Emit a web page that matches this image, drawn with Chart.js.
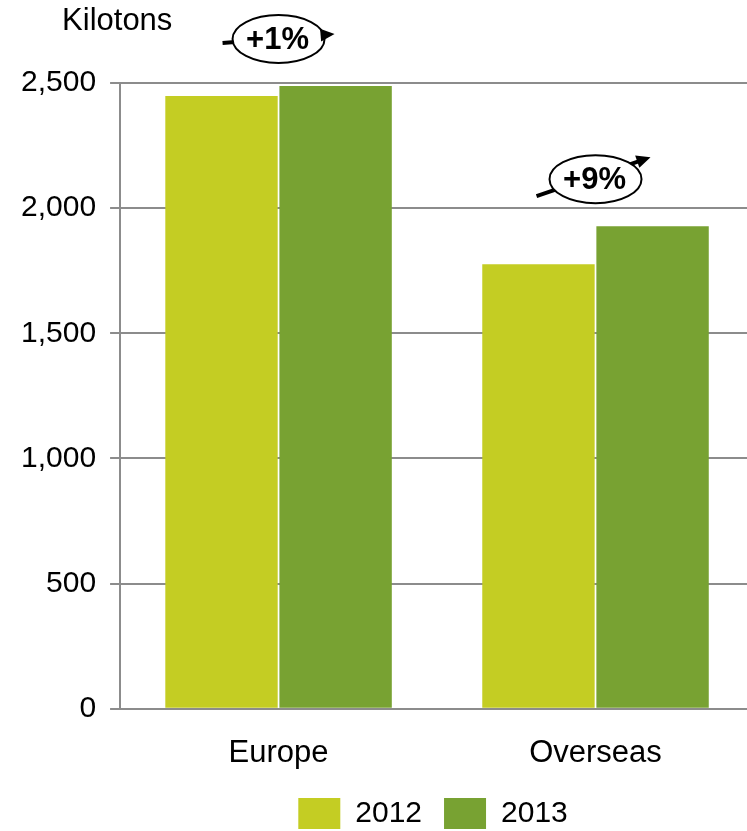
<!DOCTYPE html>
<html>
<head>
<meta charset="utf-8">
<script src="https://cdn.jsdelivr.net/npm/chart.js@4"></script>
<style>
  html, body { margin: 0; padding: 0; background: #ffffff; overflow: hidden; }
  #frame { width: 747px; height: 831px; overflow: hidden; }
  #wrap { width: 754px; height: 831px; position: relative; }
</style>
</head>
<body>
<div id="frame"><div id="wrap"><canvas id="volumeChart"></canvas></div></div>
<script>
// Chart data
var categories = ['Europe', 'Overseas'];
var seriesLabels = ['2012', '2013'];
var values2012 = [2448, 1776];
var values2013 = [2488, 1928];
var changeLabels = ['+1%', '+9%'];
var yTicks = [0, 500, 1000, 1500, 2000, 2500];
var unitLabel = 'Kilotons';

(function () {
    var FONT = '"Liberation Sans", Arial, sans-serif';
    var GRID = '#8c8c8c';

    // arrow start / tip relative to the bubble centre
    var arrowFrom = [[-56, 4], [-59, 17]];
    var arrowTo = [[56, -5], [55, -22]];

    var unitTitle = {
        id: 'unitTitle',
        afterDraw: function (chart) {
            var ctx = chart.ctx;
            var area = chart.chartArea;
            ctx.save();
            ctx.fillStyle = '#000000';
            ctx.font = '31px ' + FONT;
            ctx.textAlign = 'left';
            ctx.textBaseline = 'middle';
            ctx.fillText(unitLabel, area.left - 58, area.top - 62);
            ctx.restore();
        }
    };

    // keep legend centred under the plot area, like the original
    var legendUnderPlot = {
        id: 'legendUnderPlot',
        afterLayout: function (chart) {
            var lg = chart.legend;
            if (!lg) return;
            lg.left = chart.chartArea.left - 4;
            lg.right = chart.chartArea.right - 4;
            lg.width = lg.right - lg.left;
        }
    };

    var changeBubbles = {
        id: 'changeBubbles',
        afterDatasetsDraw: function (chart) {
            var ctx = chart.ctx;
            var x = chart.scales.x;
            var y = chart.scales.y;
            for (var i = 0; i < categories.length; i++) {
                var top = Math.max(values2012[i], values2013[i]);
                var cx = x.getPixelForValue(i);
                var cy = y.getPixelForValue(top) - 47;
                var sx = cx + arrowFrom[i][0], sy = cy + arrowFrom[i][1];
                var tx = cx + arrowTo[i][0], ty = cy + arrowTo[i][1];
                var ang = Math.atan2(ty - sy, tx - sx);

                ctx.save();
                // arrow shaft
                ctx.strokeStyle = '#000000';
                ctx.lineWidth = 4;
                ctx.beginPath();
                ctx.moveTo(sx, sy);
                ctx.lineTo(tx - 8 * Math.cos(ang), ty - 8 * Math.sin(ang));
                ctx.stroke();

                // bubble
                ctx.beginPath();
                ctx.ellipse(cx, cy, 46, 24, 0, 0, Math.PI * 2);
                ctx.fillStyle = '#ffffff';
                ctx.fill();
                ctx.lineWidth = 2;
                ctx.stroke();

                // arrow head
                var len = 14, half = 6.5;
                var bx = tx - len * Math.cos(ang), by = ty - len * Math.sin(ang);
                ctx.beginPath();
                ctx.moveTo(tx, ty);
                ctx.lineTo(bx + half * Math.sin(ang), by - half * Math.cos(ang));
                ctx.lineTo(bx - half * Math.sin(ang), by + half * Math.cos(ang));
                ctx.closePath();
                ctx.fillStyle = '#000000';
                ctx.fill();

                ctx.font = 'bold 31px ' + FONT;
                ctx.textAlign = 'center';
                ctx.textBaseline = 'middle';
                ctx.fillText(changeLabels[i], cx - 1, cy + 1);
                ctx.restore();
            }
        }
    };

    var ctxEl = document.getElementById('volumeChart');
    new Chart(ctxEl, {
        type: 'bar',
        data: {
            labels: categories,
            datasets: [{
                label: seriesLabels[0],
                data: values2012,
                backgroundColor: '#c4cd23'
            }, {
                label: seriesLabels[1],
                data: values2013,
                backgroundColor: '#78a232'
            }]
        },
        options: {
            responsive: true,
            maintainAspectRatio: false,
            animation: false,
            categoryPercentage: 0.72,
            barPercentage: 0.985,
            layout: { padding: { top: 83, left: 7, right: 0, bottom: -8 } },
            plugins: {
                legend: {
                    position: 'bottom',
                    labels: {
                        boxWidth: 42,
                        boxHeight: 31,
                        padding: 22,
                        color: '#000000',
                        font: { size: 30, family: FONT }
                    }
                },
                tooltip: { enabled: false }
            },
            scales: {
                x: {
                    grid: { display: false },
                    border: { display: true, color: GRID, width: 2 },
                    ticks: { color: '#000000', padding: 18, font: { size: 31, family: FONT } },
                    afterFit: function (scale) {
                        scale.height -= 14;
                    }
                },
                y: {
                    min: yTicks[0],
                    max: yTicks[yTicks.length - 1],
                    afterBuildTicks: function (scale) {
                        scale.ticks = yTicks.map(function (v) { return { value: v }; });
                    },
                    grid: { color: GRID, lineWidth: 2, tickLength: 10 },
                    border: { display: true, color: GRID, width: 2 },
                    ticks: {
                        color: '#000000',
                        padding: 14,
                        font: { size: 30, family: FONT },
                        callback: function (v) { return Number(v).toLocaleString('en-US'); }
                    }
                }
            }
        },
        plugins: [unitTitle, legendUnderPlot, changeBubbles]
    });
})();
</script>
</body>
</html>
